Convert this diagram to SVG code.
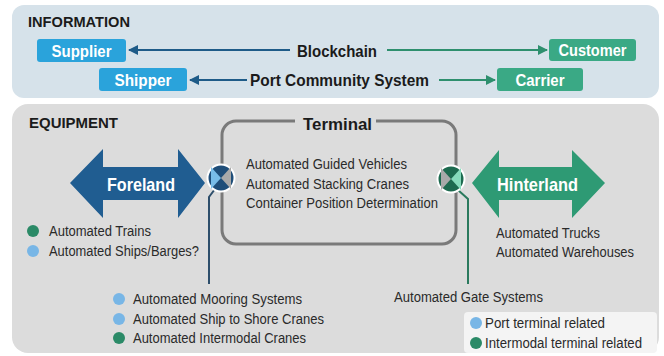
<svg xmlns="http://www.w3.org/2000/svg" width="664" height="356" viewBox="0 0 664 356">
  <style>
    .h { font-family: "Liberation Sans", Arial, sans-serif; font-weight: bold; fill: #1b1b1b; }
    .lbl { font-family: "Liberation Sans", Arial, sans-serif; font-weight: bold; fill: #ffffff; text-anchor: middle; }
    .t { font-family: "Liberation Sans", Arial, sans-serif; font-size: 14px; fill: #2a2a2a; }
    .blue { fill: #2aa3db; }
    .green { fill: #3aa985; }
    .dotB { fill: #78b6e6; }
    .dotG { fill: #2b8a67; }
  </style>
  <defs>
    <marker id="headB" viewBox="0 0 10 10" refX="9" refY="5" markerWidth="5" markerHeight="5" orient="auto">
      <path d="M0,0 L10,5 L0,10 z" fill="#1e5b88"/>
    </marker>
    <marker id="headG" viewBox="0 0 10 10" refX="9" refY="5" markerWidth="5" markerHeight="5" orient="auto">
      <path d="M0,0 L10,5 L0,10 z" fill="#2e8f6e"/>
    </marker>
  </defs>

  <rect width="664" height="356" fill="#ffffff"/>

  <!-- information panel -->
  <g id="info-panel">
    <rect x="12" y="5" width="647" height="93" rx="12" fill="#d6e2ea"/>
    <text class="h" x="28" y="27" font-size="15" textLength="102" lengthAdjust="spacingAndGlyphs">INFORMATION</text>
  </g>

  <!-- equipment panel -->
  <g id="equipment-panel">
    <rect x="12" y="104" width="647" height="249" rx="16" fill="#dcdcdc"/>
    <text class="h" x="29" y="128" font-size="15" textLength="89" lengthAdjust="spacingAndGlyphs">EQUIPMENT</text>
  </g>

  <!-- connectors -->
  <g id="connectors" fill="none" stroke-width="2">
    <line x1="290" y1="50" x2="129" y2="50" stroke="#1e5b88" marker-end="url(#headB)"/>
    <line x1="387" y1="50" x2="547" y2="50" stroke="#2e8f6e" marker-end="url(#headG)"/>
    <line x1="247" y1="80" x2="190" y2="80" stroke="#1e5b88" marker-end="url(#headB)"/>
    <line x1="439" y1="80" x2="495" y2="80" stroke="#2e8f6e" marker-end="url(#headG)"/>
    <path d="M215,189 L209,197 V284" stroke="#2d4e6b"/>
    <path d="M458,190 L468,199 V284" stroke="#2b7a5e"/>
  </g>

  <!-- information nodes -->
  <g id="supplier">
    <rect class="blue" x="37" y="39" width="89" height="23" rx="3"/>
    <text class="lbl" x="81.5" y="56.5" font-size="17" textLength="60" lengthAdjust="spacingAndGlyphs">Supplier</text>
  </g>
  <g id="blockchain">
    <text class="h" x="297" y="56.5" font-size="17" textLength="80" lengthAdjust="spacingAndGlyphs">Blockchain</text>
  </g>
  <g id="customer">
    <rect class="green" x="549" y="39" width="87" height="22" rx="3"/>
    <text class="lbl" x="592.5" y="56" font-size="17" textLength="68" lengthAdjust="spacingAndGlyphs">Customer</text>
  </g>
  <g id="shipper">
    <rect class="blue" x="99" y="68" width="88" height="23" rx="3"/>
    <text class="lbl" x="143" y="85.5" font-size="17" textLength="57" lengthAdjust="spacingAndGlyphs">Shipper</text>
  </g>
  <g id="port-community-system">
    <text class="h" x="250" y="86" font-size="17" textLength="179" lengthAdjust="spacingAndGlyphs">Port Community System</text>
  </g>
  <g id="carrier">
    <rect class="green" x="497" y="68" width="86" height="23" rx="3"/>
    <text class="lbl" x="540" y="85.5" font-size="17" textLength="49" lengthAdjust="spacingAndGlyphs">Carrier</text>
  </g>

  <!-- terminal -->
  <g id="terminal">
    <path d="M295,121 H236 A14,14 0 0 0 222,135 V230 A14,14 0 0 0 236,244 H442 A14,14 0 0 0 456,230 V135 A14,14 0 0 0 442,121 H376" fill="none" stroke="#7a7a7a" stroke-width="3"/>
    <text class="h" x="303" y="130" font-size="17" textLength="69" lengthAdjust="spacingAndGlyphs">Terminal</text>
    <text class="t" x="246" y="169" textLength="161" lengthAdjust="spacingAndGlyphs">Automated Guided Vehicles</text>
    <text class="t" x="246" y="189" textLength="163" lengthAdjust="spacingAndGlyphs">Automated Stacking Cranes</text>
    <text class="t" x="246" y="208" textLength="192" lengthAdjust="spacingAndGlyphs">Container Position Determination</text>
  </g>

  <!-- foreland -->
  <g id="foreland">
    <polygon points="70,183 103,149 103,167 178,167 178,149 205,183 178,218 178,200 103,200 103,218" fill="#205d91"/>
    <text class="lbl" x="141" y="191" font-size="19" textLength="68" lengthAdjust="spacingAndGlyphs">Foreland</text>
    <circle class="dotG" cx="33" cy="231" r="6"/>
    <text class="t" x="49" y="236" textLength="102" lengthAdjust="spacingAndGlyphs">Automated Trains</text>
    <circle class="dotB" cx="33" cy="251" r="6"/>
    <text class="t" x="49" y="256" textLength="150" lengthAdjust="spacingAndGlyphs">Automated Ships/Barges?</text>
  </g>

  <!-- hinterland -->
  <g id="hinterland">
    <polygon points="472,183 499,150 499,167 572,167 572,150 605,183 572,218 572,200 499,200 499,218" fill="#2e9a74"/>
    <text class="lbl" x="537.5" y="191" font-size="19" textLength="81" lengthAdjust="spacingAndGlyphs">Hinterland</text>
    <text class="t" x="496" y="238" textLength="104" lengthAdjust="spacingAndGlyphs">Automated Trucks</text>
    <text class="t" x="496" y="257" textLength="138" lengthAdjust="spacingAndGlyphs">Automated Warehouses</text>
  </g>

  <!-- sea-side interface -->
  <g id="seaside-interface">
    <circle cx="221" cy="178" r="13.5" fill="#1f4e79" stroke="#ffffff" stroke-width="2"/>
    <polygon points="211,167 211,189 221,178" fill="#79bde8"/>
    <polygon points="231,167 231,189 221,178" fill="#a9a9a9"/>
  </g>

  <!-- land-side interface -->
  <g id="landside-interface">
    <circle cx="451" cy="179" r="13.5" fill="#1d6a4f" stroke="#ffffff" stroke-width="2"/>
    <polygon points="441,168 441,190 451,179" fill="#a9a9a9"/>
    <polygon points="461,168 461,190 451,179" fill="#86dabb"/>
  </g>

  <!-- quay equipment -->
  <g id="quay-equipment">
    <circle class="dotB" cx="119" cy="299" r="6"/>
    <text class="t" x="133" y="304" textLength="169" lengthAdjust="spacingAndGlyphs">Automated Mooring Systems</text>
    <circle class="dotB" cx="119" cy="319" r="6"/>
    <text class="t" x="133" y="324" textLength="191" lengthAdjust="spacingAndGlyphs">Automated Ship to Shore Cranes</text>
    <circle class="dotG" cx="119" cy="338" r="6"/>
    <text class="t" x="133" y="343" textLength="173" lengthAdjust="spacingAndGlyphs">Automated Intermodal Cranes</text>
  </g>

  <!-- gate equipment -->
  <g id="gate-equipment">
    <text class="t" x="394" y="302" textLength="149" lengthAdjust="spacingAndGlyphs">Automated Gate Systems</text>
  </g>

  <!-- legend -->
  <g id="legend">
    <rect x="464" y="312" width="193" height="41" rx="4" fill="#f4f4f4"/>
    <circle class="dotB" cx="476" cy="323" r="6"/>
    <text class="t" x="485" y="328" textLength="120" lengthAdjust="spacingAndGlyphs">Port terminal related</text>
    <circle class="dotG" cx="476" cy="343" r="6"/>
    <text class="t" x="485" y="348" textLength="157" lengthAdjust="spacingAndGlyphs">Intermodal terminal related</text>
  </g>
</svg>
